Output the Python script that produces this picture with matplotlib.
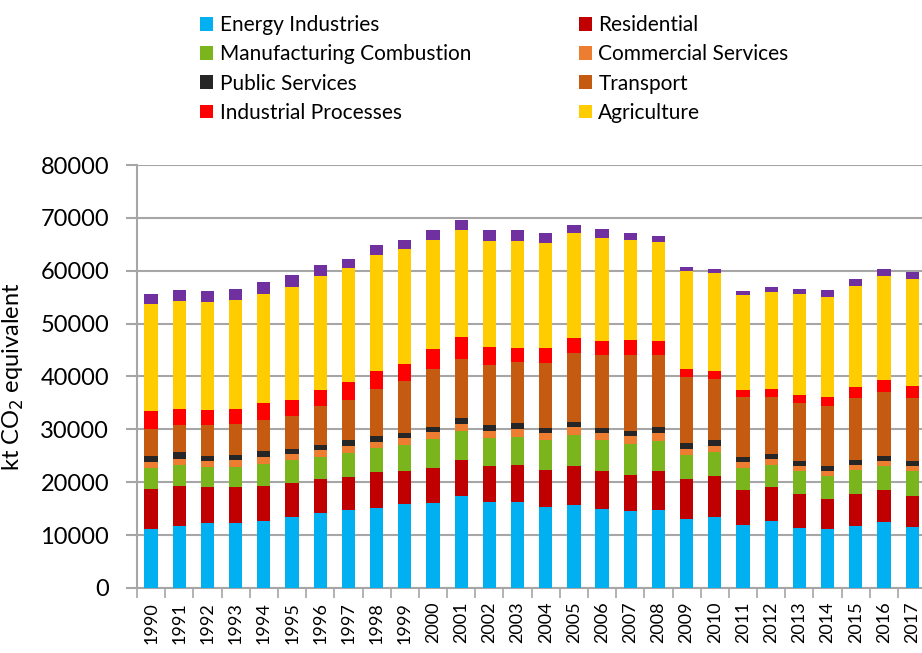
import matplotlib
matplotlib.use("Agg")
import matplotlib.pyplot as plt
import numpy as np

years = [str(y) for y in range(1990, 2018)]

energy = [11220, 11660, 12360, 12360, 12730, 13360, 14120, 14750, 15070, 15820,
          16080, 17340, 16330, 16330, 15320, 15760, 15000, 14560, 14690, 13050,
          13360, 11980, 12730, 11350, 11160, 11790, 12550, 11600]
residential = [7500, 7570, 6750, 6680, 6490, 6430, 6560, 6300, 6810, 6370,
               6560, 6810, 6680, 6870, 7000, 7250, 7190, 6870, 7500, 7570,
               7880, 6620, 6300, 6490, 5740, 6050, 6050, 5800]
manufacturing = [3910, 4040, 3720, 3910, 4160, 4410, 4160, 4480, 4540, 4790,
                 5550, 5610, 5360, 5420, 5740, 5930, 5740, 5860, 5670, 4480,
                 4410, 4100, 4160, 4220, 4350, 4480, 4410, 4670]
commercial = [1135, 1200, 1135, 1260, 1390, 1135, 1320, 1260, 1260, 1450,
              1390, 1320, 1390, 1510, 1320, 1510, 1450, 1390, 1510, 1260,
              1260, 1200, 1200, 1070, 950, 950, 1010, 1070]
public = [1135, 1200, 1070, 1010, 1070, 950, 950, 1135, 1010, 950,
          950, 1070, 1010, 1070, 880, 1010, 880, 1010, 1070, 1070,
          1135, 950, 950, 880, 820, 880, 950, 880]
transport = [5170, 5230, 5740, 5740, 5990, 6240, 7310, 7570, 9020, 9710,
             10840, 11220, 11470, 11600, 12360, 13050, 13740, 14310, 13620, 12420,
             11410, 11220, 10840, 11030, 11350, 11790, 12170, 11980]
industrial = [3340, 3030, 2960, 2900, 3150, 3090, 3090, 3400, 3340, 3340,
              3780, 4040, 3400, 2520, 2710, 2770, 2770, 2840, 2590, 1640,
              1510, 1320, 1510, 1450, 1830, 2020, 2270, 2270]
agriculture = [20300, 20430, 20360, 20550, 20680, 21370, 21500, 21620, 22000, 21620,
               20740, 20240, 19980, 20300, 19980, 19800, 19420, 19040, 18790, 18410,
               18530, 17970, 18350, 19100, 18850, 19100, 19610, 20170]
other = [1890, 2020, 2080, 2140, 2210, 2210, 2080, 1770, 1830, 1770,
         1890, 2020, 2080, 2140, 1890, 1640, 1700, 1200, 1200, 880,
         880, 880, 820, 1010, 1260, 1320, 1320, 1390]

# stacking order bottom -> top
stack = [
    ("Energy Industries", energy, "#00B0F0"),
    ("Residential", residential, "#C00000"),
    ("Manufacturing Combustion", manufacturing, "#7AB51D"),
    ("Commercial Services", commercial, "#ED7D31"),
    ("Public Services", public, "#262626"),
    ("Transport", transport, "#C55A11"),
    ("Industrial Processes", industrial, "#FF0000"),
    ("Agriculture", agriculture, "#FFCC00"),
    ("Other", other, "#7030A0"),
]

FONT = "Lato"

fig = plt.figure(figsize=(9.22, 6.53), dpi=100)
ax = fig.add_axes([0.1486, 0.0996, 0.8514, 0.6477])

x = np.arange(len(years))
bottom = np.zeros(len(years))
handles = {}
for name, vals, col in stack:
    v = np.array(vals, dtype=float)
    b = ax.bar(x, v, width=0.47, bottom=bottom, color=col, zorder=3, linewidth=0)
    handles[name] = b
    bottom += v

ax.set_xlim(-0.5, 27.35)
ax.set_ylim(0, 80000)
ax.set_yticks(np.arange(0, 80001, 10000))
ax.yaxis.grid(True, color="#A6A6A6", linewidth=1.5, zorder=0)
ax.set_axisbelow(True)
for s in ["top", "right"]:
    ax.spines[s].set_visible(False)
for s in ["left", "bottom"]:
    ax.spines[s].set_color("#A6A6A6")
    ax.spines[s].set_linewidth(1.5)

ax.set_xticks(x)
ax.set_xticklabels(years, rotation=90, fontsize=13, family=FONT)
ax.tick_params(axis="x", length=0, pad=10)
ax.set_xticks(np.arange(-0.5, 27.5, 1.0), minor=True)
ax.tick_params(axis="x", which="minor", length=7, width=1.2, color="#A6A6A6")
ax.tick_params(axis="y", length=8, width=1.5, color="#A6A6A6", labelsize=17, pad=12)
for lab in ax.get_yticklabels():
    lab.set_family(FONT)

ax.set_ylabel("kt CO$_2$ equivalent", fontsize=17, family=FONT, labelpad=10)

order = ["Energy Industries", "Manufacturing Combustion", "Public Services", "Industrial Processes",
         "Residential", "Commercial Services", "Transport", "Agriculture"]
leg = fig.legend([handles[n] for n in order], order, ncol=2, loc="upper left",
                 bbox_to_anchor=(0.2015, 0.999), frameon=False,
                 prop={"family": FONT, "size": 15},
                 handlelength=0.62, handleheight=0.62, handletextpad=0.3,
                 columnspacing=5.2, labelspacing=0.44, borderaxespad=0.3)

fig.savefig("out.png", dpi=100)
